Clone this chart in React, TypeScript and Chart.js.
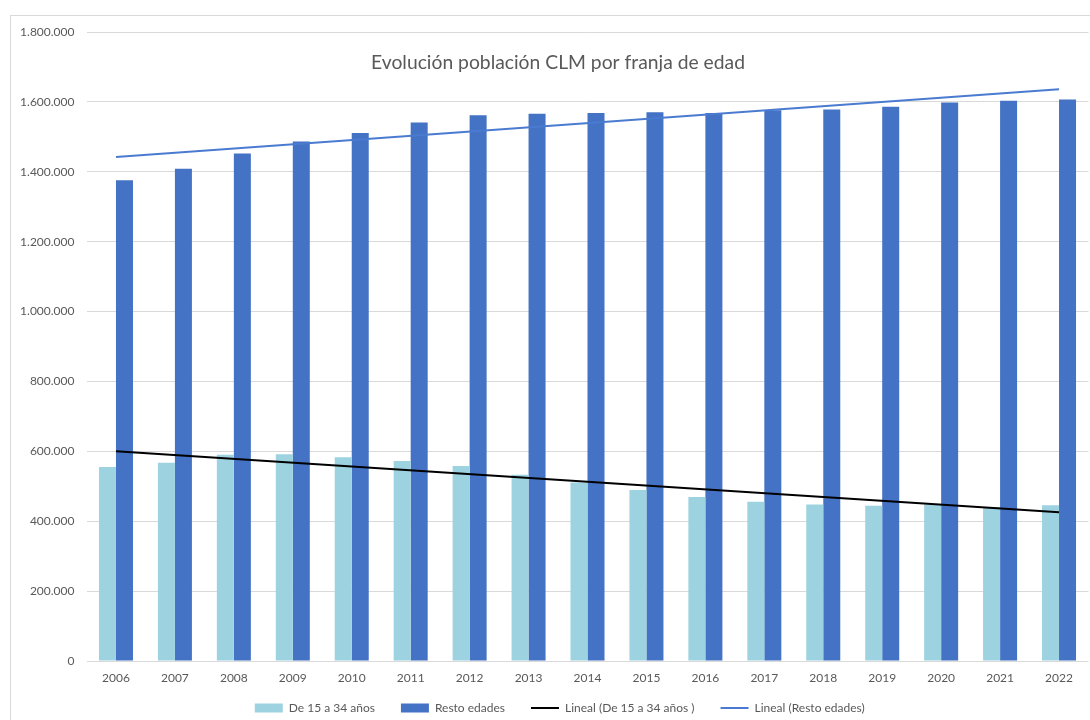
import React, { useEffect, useRef } from "react";
import { Chart, registerables } from "chart.js";

Chart.register(...registerables);

const TITLE = "Evolución población CLM por franja de edad";
const YEARS = ["2006", "2007", "2008", "2009", "2010", "2011", "2012", "2013", "2014", "2015", "2016", "2017", "2018", "2019", "2020", "2021", "2022"];
const YOUNG = [555000, 567000, 590000, 592000, 583000, 572000, 558000, 533000, 511000, 489000, 469000, 456000, 448000, 444000, 448000, 441000, 446000];
const REST = [1376000, 1409000, 1452000, 1487000, 1511000, 1541000, 1562000, 1566000, 1568000, 1570000, 1568000, 1576000, 1578000, 1586000, 1598000, 1603000, 1607000];
const YOUNG_TREND_ENDS = [600000, 426000];
const REST_TREND_ENDS = [1442000, 1636000];
const SERIES_NAMES = ["De 15 a 34 años", "Resto edades", "Lineal (De 15 a 34 años )", "Lineal (Resto edades)"];
const Y_MAX = 1800000;
const Y_STEP = 200000;

const FONT = "Lato";
const TEXT = "#595959";

function trendSeries(ends: number[]): (number | null)[] {
  return YEARS.map((_, i) => (i === 0 ? ends[0] : i === YEARS.length - 1 ? ends[1] : null));
}

function fmt(v: number): string {
  return String(Math.round(v)).replace(/\B(?=(\d{3})+(?!\d))/g, ".");
}

const titlePlugin = {
  id: "excelTitle",
  afterLayout(chart: any) {
    const l = chart.legend;
    if (l) {
      l.top -= 16;
      l.bottom -= 16;
      l.left += 10.5;
      l.right += 10.5;
    }
  },
  afterDraw(chart: any) {
    const ctx = chart.ctx;
    ctx.save();
    ctx.font = `19.3px ${FONT}`;
    ctx.fillStyle = TEXT;
    ctx.textAlign = "center";
    ctx.textBaseline = "alphabetic";
    ctx.fillText(TITLE, 558, 69);
    ctx.restore();
  },
};

export default function App() {
  const ref = useRef<HTMLCanvasElement | null>(null);

  useEffect(() => {
    if (!ref.current) return;
    const chart = new Chart(ref.current, {
      type: "bar",
      data: {
        labels: YEARS,
        datasets: [
          {
            type: "bar",
            label: SERIES_NAMES[0],
            data: YOUNG,
            backgroundColor: "#9DD3E1",
            borderWidth: 0,
            pointStyle: "rect",
            order: 2,
          } as any,
          {
            type: "bar",
            label: SERIES_NAMES[1],
            data: REST,
            backgroundColor: "#4472C4",
            borderWidth: 0,
            pointStyle: "rect",
            order: 2,
          } as any,
          {
            type: "line",
            label: SERIES_NAMES[2],
            data: trendSeries(YOUNG_TREND_ENDS),
            borderColor: "#000000",
            backgroundColor: "#000000",
            borderWidth: 2,
            pointRadius: 0,
            pointStyle: "line",
            spanGaps: true,
            order: 1,
          } as any,
          {
            type: "line",
            label: SERIES_NAMES[3],
            data: trendSeries(REST_TREND_ENDS),
            borderColor: "#4A7BD0",
            backgroundColor: "#4A7BD0",
            borderWidth: 2,
            pointRadius: 0,
            pointStyle: "line",
            spanGaps: true,
            order: 1,
          } as any,
        ],
      },
      options: {
        responsive: false,
        animation: false,
        layout: { padding: { left: 10, right: 1.5, top: 32, bottom: 0 } },
        datasets: {
          bar: { categoryPercentage: 0.577, barPercentage: 1 },
        } as any,
        plugins: {
          title: { display: false },
          tooltip: { enabled: false },
          legend: {
            position: "bottom",
            align: "center",
            labels: {
              usePointStyle: true,
              pointStyleWidth: 28,
              boxHeight: 9,
              padding: 26,
              color: TEXT,
              font: { family: FONT, size: 12 },
              sort: (a: any, b: any) => a.datasetIndex - b.datasetIndex,
            },
          },
        },
        scales: {
          x: {
            grid: { display: false },
            border: { display: false },
            ticks: { color: TEXT, font: { family: FONT, size: 12 }, padding: 2, maxRotation: 0, autoSkip: false },
            afterFit: (s: any) => {
              s.height = 31;
            },
          },
          y: {
            min: 0,
            max: Y_MAX,
            grid: { color: "#D9D9D9", lineWidth: 1, drawTicks: false },
            border: { display: false },
            ticks: {
              stepSize: Y_STEP,
              color: TEXT,
              font: { family: FONT, size: 12 },
              padding: 12,
              callback: (v: any) => fmt(Number(v)),
            },
            afterFit: (s: any) => {
              s.width = 76.5;
            },
          },
        },
      },
      plugins: [titlePlugin],
    });
    return () => chart.destroy();
  }, []);

  return (
    <div style={{ position: "fixed", left: 0, top: 0, width: 1090, height: 720, overflow: "hidden", background: "#fff" }}>
      <div
        style={{
          position: "absolute",
          left: 10,
          top: 15,
          width: 1100,
          height: 720,
          border: "1px solid #D9D9D9",
          boxSizing: "border-box",
        }}
      />
      <canvas ref={ref} width={1090} height={740} style={{ position: "absolute", left: 0, top: 0 }} />
    </div>
  );
}
